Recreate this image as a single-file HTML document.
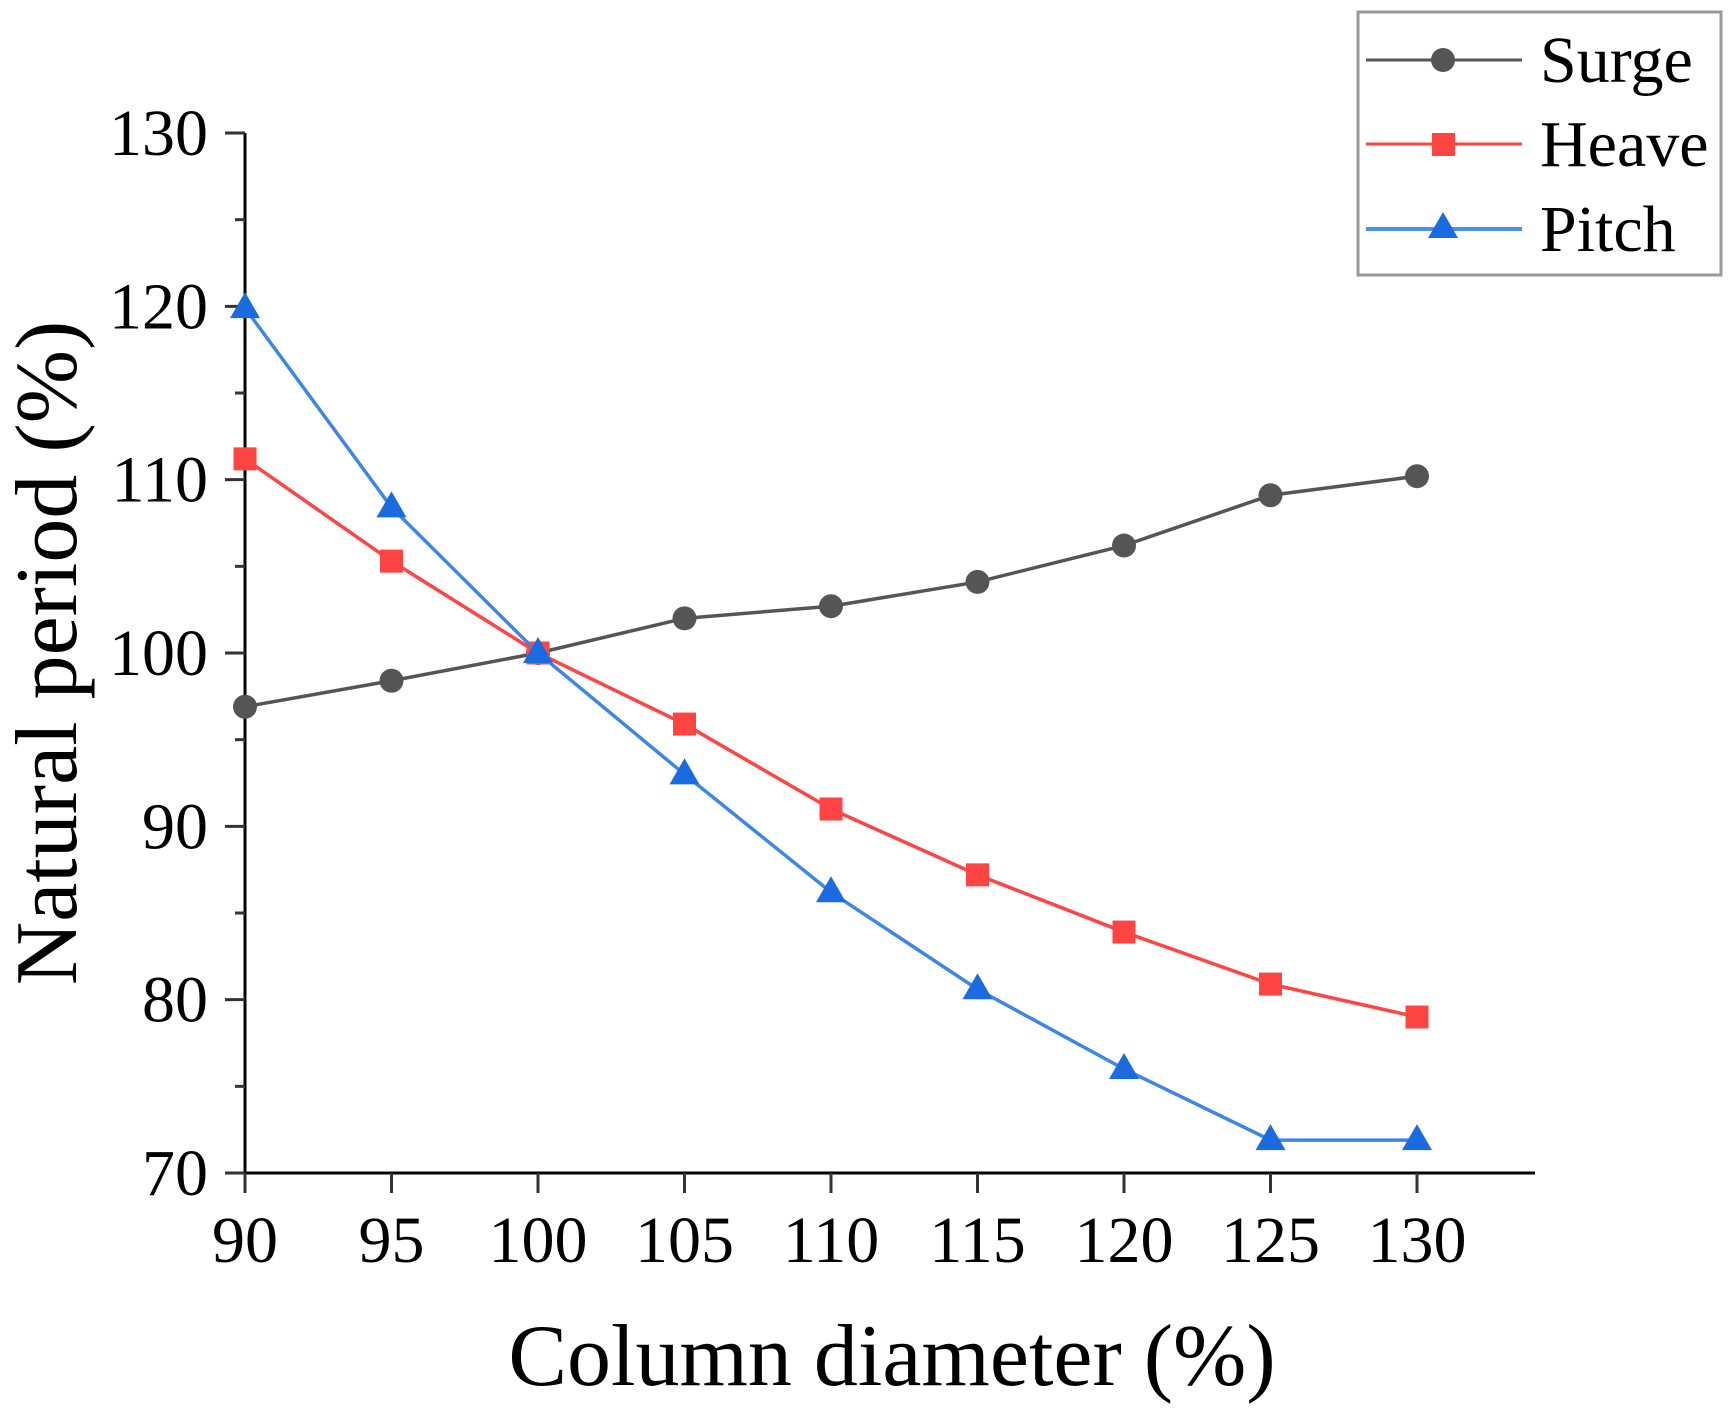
<!DOCTYPE html>
<html><head><meta charset="utf-8"><style>
html,body{margin:0;padding:0;background:#fff;}
svg{display:block;font-family:"Liberation Serif","Times New Roman",serif;}
</style></head><body>
<svg id="chart" width="1733" height="1424" viewBox="0 0 1733 1424">
<g id="axes"></g>
<g id="series"></g>
<text x="892" y="1385" font-size="88" text-anchor="middle">Column diameter (%)</text>
<text transform="translate(76,653) rotate(-90)" font-size="88" text-anchor="middle">Natural period (%)</text>
<g>
<rect x="1358" y="12" width="363" height="263" fill="#fff" stroke="#999" stroke-width="3"/>
<g>
<line x1="1366" y1="60" x2="1522" y2="60" stroke="#555" stroke-width="3"/>
<circle cx="1443" cy="60" r="12" fill="#555"/>
<text x="1540" y="82" font-size="66">Surge</text></g>
<g>
<line x1="1366" y1="144" x2="1522" y2="144" stroke="#f44" stroke-width="3"/>
<rect x="1432" y="133" width="23" height="23" fill="#f44"/>
<text x="1540" y="166" font-size="66">Heave</text></g>
<g>
<line x1="1366" y1="229" x2="1522" y2="229" stroke="#4a8fe8" stroke-width="4"/>
<polygon points="1443,212 1458,238 1428,238" fill="#1a6be0"/>
<text x="1540" y="251" font-size="66">Pitch</text></g>
</g>
</svg>
<script>
const categories=[90,95,100,105,110,115,120,125,130];
const surge=[96.9,98.4,100,102,102.7,104.1,106.2,109.1,110.2];
const heave=[111.2,105.3,100,95.9,91,87.2,83.9,80.9,79];
const pitch=[119.9,108.4,100,93,86.2,80.6,76,71.9,71.9];
const xTicks=[90,95,100,105,110,115,120,125,130];
const yTicks=[70,80,90,100,110,120,130];
const NS="http://www.w3.org/2000/svg";
function X(v){return 245+(v-90)*(1417-245)/40;}
function Y(v){return 1173-(v-70)*(1173-133)/60;}
function mk(tag,attrs,parent){const e=document.createElementNS(NS,tag);for(const k in attrs)e.setAttribute(k,attrs[k]);parent.appendChild(e);return e;}
const axes=document.getElementById('axes');
let l=mk('line',{x1:245,y1:133,x2:245,y2:1173,stroke:'#000','stroke-width':3},axes);


l=mk('line',{x1:245,y1:1173,x2:1535,y2:1173,stroke:'#000','stroke-width':3},axes);


xTicks.forEach(v=>{
 const t=mk('line',{x1:X(v),y1:1173,x2:X(v),y2:1193,stroke:'#333','stroke-width':3},axes);
 
 
 const tx=mk('text',{x:X(v),y:1262,'font-size':66,'text-anchor':'middle'},axes);
 tx.textContent=v;
 
 
});
yTicks.forEach((v,i)=>{
 const t=mk('line',{x1:225,y1:Y(v),x2:245,y2:Y(v),stroke:'#333','stroke-width':3},axes);
 
 
 if(i<yTicks.length-1){
  const m=mk('line',{x1:235,y1:Y(v+5),x2:245,y2:Y(v+5),stroke:'#333','stroke-width':3},axes);
  
  
 }
 const tx=mk('text',{x:208,y:Y(v)+22,'font-size':66,'text-anchor':'end'},axes);
 tx.textContent=v;
 
 
});
const sg=document.getElementById('series');
function drawSeries(vals,color,lineColor,lw,shape,name){
 const g=mk('g',{},sg);
 
 
 const p=mk('polyline',{points:vals.map((v,i)=>X(categories[i])+','+Y(v)).join(' '),fill:'none',stroke:lineColor,'stroke-width':lw},g);
 
 
 vals.forEach((v,i)=>{
  const cx=X(categories[i]),cy=Y(v);let m;
  if(shape==='circle')m=mk('circle',{cx:cx,cy:cy,r:12,fill:color},g);
  else if(shape==='square')m=mk('rect',{x:cx-11.5,y:cy-11.5,width:23,height:23,fill:color},g);
  else m=mk('polygon',{points:`${cx},${cy-16} ${cx+15},${cy+10} ${cx-15},${cy+10}`,fill:color},g);
  
  
 });
}
drawSeries(surge,'#555','#555',3.5,'circle','surge');
drawSeries(heave,'#f44','#f44',3.5,'square','heave');
drawSeries(pitch,'#1a6be0','#3d86e6',3.5,'triangle','pitch');
</script>
</body></html>
